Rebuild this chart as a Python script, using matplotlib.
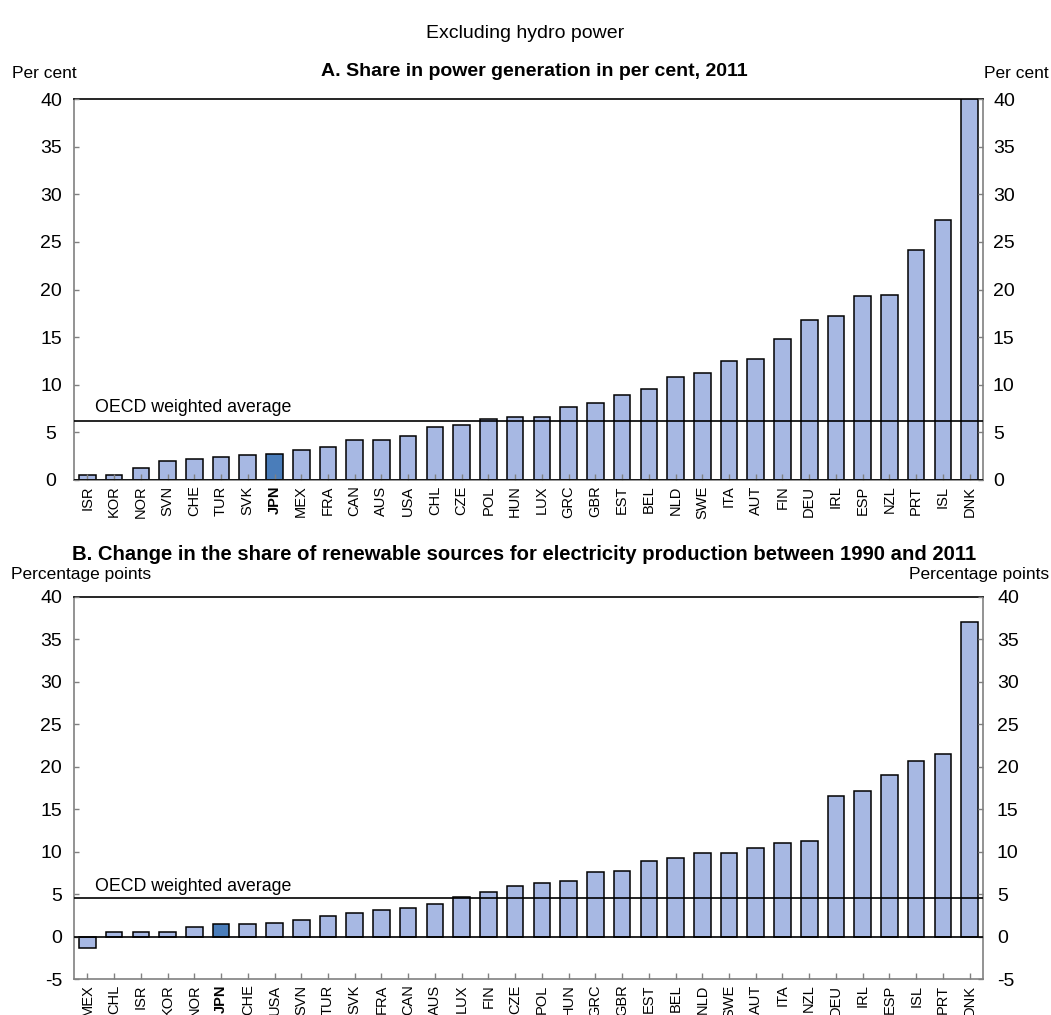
import matplotlib
matplotlib.use("Agg")
import matplotlib.pyplot as plt
import matplotlib.transforms as mtransforms
import numpy as np

plt.rcParams['font.family'] = ['Liberation Sans', 'DejaVu Sans']

# Panel A: share of non-hydro renewables in power generation, 2011 (%)
countries_a = ["ISR", "KOR", "NOR", "SVN", "CHE", "TUR", "SVK", "JPN", "MEX", "FRA",
               "CAN", "AUS", "USA", "CHL", "CZE", "POL", "HUN", "LUX", "GRC", "GBR",
               "EST", "BEL", "NLD", "SWE", "ITA", "AUT", "FIN", "DEU", "IRL", "ESP",
               "NZL", "PRT", "ISL", "DNK"]
share_a = [0.5, 0.5, 1.3, 2.0, 2.2, 2.45, 2.65, 2.75, 3.2, 3.45,
           4.15, 4.2, 4.65, 5.6, 5.8, 6.4, 6.65, 6.65, 7.65, 8.05,
           8.9, 9.55, 10.8, 11.2, 12.5, 12.7, 14.8, 16.8, 17.2, 19.3,
           19.45, 24.1, 27.3, 40.3]
oecd_a = 6.22

# Panel B: change in renewable share, 1990-2011 (percentage points)
countries_b = ["MEX", "CHL", "ISR", "KOR", "NOR", "JPN", "CHE", "USA", "SVN", "TUR",
               "SVK", "FRA", "CAN", "AUS", "LUX", "FIN", "CZE", "POL", "HUN", "GRC",
               "GBR", "EST", "BEL", "NLD", "SWE", "AUT", "ITA", "NZL", "DEU", "IRL",
               "ESP", "ISL", "PRT", "DNK"]
change_b = [-1.3, 0.5, 0.5, 0.5, 1.15, 1.45, 1.5, 1.65, 2.0, 2.45,
            2.75, 3.1, 3.35, 3.8, 4.7, 5.3, 5.95, 6.35, 6.55, 7.65,
            7.75, 8.9, 9.2, 9.8, 9.85, 10.4, 11.0, 11.3, 16.5, 17.2,
            19.0, 20.7, 21.55, 37.0]
oecd_b = 4.5

yticks_a = [0, 5, 10, 15, 20, 25, 30, 35, 40]
yticks_b = [-5, 0, 5, 10, 15, 20, 25, 30, 35, 40]

LIGHT = "#A7B8E3"
DARK = "#4A7DBA"
GREY = "#808080"

W, H = 1051, 1015
fig = plt.figure(figsize=(W / 100, H / 100), dpi=100)


def px(x0, y0, x1, y1):
    """Axes rectangle from pixel edges (origin top-left)."""
    return [x0 / W, 1 - y1 / H, (x1 - x0) / W, (y1 - y0) / H]


def panel(ax, names, vals, avg, ymin, ticks, left_ha, left_gap, right_gap):
    x = np.arange(len(names))
    colors = [DARK if n == "JPN" else LIGHT for n in names]
    ax.bar(x, vals, width=0.62, color=colors, edgecolor="black",
           linewidth=1.1, zorder=2)
    ax.axhline(avg, color="black", linewidth=1.2, zorder=3)
    ax.axhline(0, color="black", linewidth=1.2, zorder=3)
    blend = mtransforms.blended_transform_factory(ax.transAxes, ax.transData)
    ax.text(0.023, avg + 0.45, "OECD weighted average", fontsize=12.8,
            ha="left", va="bottom", transform=blend, zorder=4)
    ax.set_xlim(-0.5, len(names) - 0.5)
    ax.set_ylim(ymin, 40)
    ax.set_axisbelow(False)

    # y axis: short inward ticks, labels repeated on both sides
    ax.set_yticks(ticks)
    ax.set_yticklabels([str(t) for t in ticks])
    ax.tick_params(axis="y", direction="in", length=3.3, width=1, color=GREY,
                   labelsize=14, left=True, right=True, labelleft=True,
                   labelright=True)
    shift_l = mtransforms.ScaledTranslation(-left_gap / 100, 0, fig.dpi_scale_trans)
    shift_r = mtransforms.ScaledTranslation(right_gap / 100, 0, fig.dpi_scale_trans)
    for t in ax.yaxis.get_major_ticks():
        t.label1.set_transform(blend + shift_l)
        t.label1.set_x(0.0)
        t.label1.set_horizontalalignment(left_ha)
        t.label2.set_transform(blend + shift_r)
        t.label2.set_x(1.0)
        t.label2.set_horizontalalignment("left")

    # x axis: country codes, inward ticks at bar centres
    ax.set_xticks(x)
    ax.set_xticklabels(names, rotation=90, fontsize=10.5)
    ax.tick_params(axis="x", direction="in", length=4, width=1, color=GREY, pad=4)
    for lbl in ax.get_xticklabels():
        if lbl.get_text() == "JPN":
            lbl.set_fontweight("bold")

    for side in ("left", "right", "bottom"):
        ax.spines[side].set_color(GREY)
        ax.spines[side].set_linewidth(1.2)
    ax.spines["top"].set_color("black")
    ax.spines["top"].set_linewidth(1.2)


ax_a = fig.add_axes(px(74, 99, 983, 480))
panel(ax_a, countries_a, share_a, oecd_a, 0, yticks_a, "center", 23, 10)

ax_b = fig.add_axes(px(74, 597, 983, 979))
panel(ax_b, countries_b, change_b, oecd_b, -5, yticks_b, "right", 12, 14)

fig.text(525 / W, 1 - 33 / H, "Excluding hydro power", fontsize=14,
         ha="center", va="center")
fig.text(534 / W, 1 - 72 / H, "A. Share in power generation in per cent, 2011",
         fontsize=14, fontweight="bold", ha="center", va="center")
fig.text(12 / W, 1 - 73 / H, "Per cent", fontsize=12.5, ha="left", va="center")
fig.text(1049 / W, 1 - 73 / H, "Per cent", fontsize=12.5, ha="right", va="center")

fig.text(524 / W, 1 - 554 / H,
         "B. Change in the share of renewable sources for electricity production between 1990 and 2011",
         fontsize=14.6, fontweight="bold", ha="center", va="center")
fig.text(11 / W, 1 - 575 / H, "Percentage points", fontsize=12.5, ha="left", va="center")
fig.text(1049 / W, 1 - 575 / H, "Percentage points", fontsize=12.5, ha="right", va="center")

fig.savefig("out.png", dpi=100)
